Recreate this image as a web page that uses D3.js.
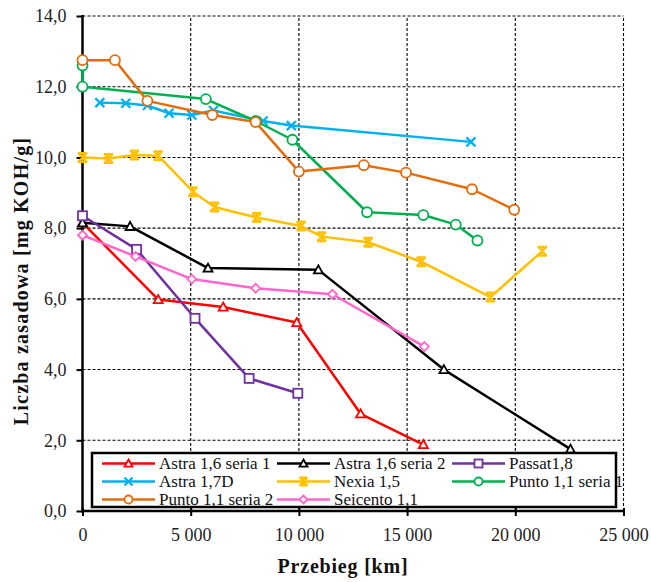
<!DOCTYPE html>
<html><head><meta charset="utf-8">
<script src="https://cdn.jsdelivr.net/npm/d3@7"></script>
<style>
body{margin:0;background:#fff}
svg{display:block}
</style>
</head><body>
<svg id="c" width="651" height="582"></svg>
<script>
const xTicks = [0, 5000, 10000, 15000, 20000, 25000];
const xTickLabels = ["0", "5 000", "10 000", "15 000", "20 000", "25 000"];
const yTicks = [0, 2, 4, 6, 8, 10, 12, 14];
const yTickLabels = ["0,0", "2,0", "4,0", "6,0", "8,0", "10,0", "12,0", "14,0"];

const seriesNames = ["Astra 1,6 seria 1", "Astra 1,6 seria 2", "Passat1,8", "Astra 1,7D", "Nexia 1,5", "Punto 1,1 seria 1", "Punto 1,1 seria 2", "Seicento 1,1"];

const astra16s1 = [[0,8.15],[3500,5.98],[6500,5.77],[9900,5.33],[12850,2.75],[15750,1.88]];
const astra16s2 = [[0,8.15],[2200,8.05],[5800,6.87],[10900,6.82],[16700,4.0],[22550,1.75]];
const passat18 = [[0,8.35],[2500,7.4],[5200,5.45],[7700,3.75],[9950,3.33]];
const astra17D = [[800,11.55],[2000,11.53],[3000,11.47],[4000,11.25],[5050,11.2],[6050,11.33],[8350,11.03],[9650,10.9],[17950,10.44]];
const nexia15 = [[0,10.0],[1200,9.97],[2400,10.07],[3500,10.05],[5100,9.03],[6100,8.6],[8050,8.3],[10100,8.06],[11050,7.76],[13200,7.6],[15650,7.05],[18850,6.05],[21250,7.35]];
const punto11s1 = [[0,12.6],[0,12.0],[5700,11.65],[8000,11.03],[9700,10.5],[13150,8.45],[15750,8.37],[17250,8.1],[18250,7.65]];
const punto11s2 = [[0,12.75],[1500,12.75],[3000,11.6],[6000,11.2],[8000,11.0],[10000,9.6],[13000,9.78],[14950,9.57],[18000,9.1],[19950,8.52]];
const seicento11 = [[0,7.8],[2450,7.2],[5050,6.56],[8000,6.3],[11550,6.13],[15800,4.65]];

const seriesData = [astra16s1, astra16s2, passat18, astra17D, nexia15, punto11s1, punto11s2, seicento11];
const seriesColors = ["#ff0000", "#000000", "#7030a0", "#00b0f0", "#ffc000", "#00b050", "#e46c0a", "#ff66cc"];
const seriesMarkers = ["triangle", "triangle", "square", "x", "star", "circle", "circle", "diamond"];

const svg = d3.select("#c");
const font = "Liberation Serif";
const x = d3.scaleLinear().domain([0, 25000]).range([82.5, 623.5]);
const y = d3.scaleLinear().domain([0, 14]).range([511, 16]);

// gridlines
const grid = svg.append("g");
grid.selectAll("line.h").data(yTicks.filter(d => d > 0)).join("line")
  .attr("x1", x(0)).attr("x2", x(25000)).attr("y1", d => y(d)).attr("y2", d => y(d))
  .attr("stroke", "#000").attr("stroke-width", 1.1).attr("stroke-dasharray", "3,2");
grid.selectAll("line.v").data(xTicks.filter(d => d > 0)).join("line")
  .attr("y1", y(0)).attr("y2", y(14)).attr("x1", d => x(d)).attr("x2", d => x(d))
  .attr("stroke", "#000").attr("stroke-width", 1.1).attr("stroke-dasharray", "3,2");

// axes
const xAxis = d3.axisBottom(x).tickValues(xTicks).tickFormat((d, i) => xTickLabels[i]).tickSize(5).tickPadding(12);
const gx = svg.append("g").attr("transform", `translate(0,${y(0)})`).call(xAxis);
gx.select(".domain").remove();
gx.selectAll(".tick line").attr("stroke", "#000").attr("stroke-width", 2).attr("y1", -3);
gx.selectAll("text").attr("font-family", font).attr("font-size", 18).attr("fill", "#222");

const yAxis = d3.axisLeft(y).tickValues(yTicks).tickFormat((d, i) => yTickLabels[i]).tickSize(6).tickPadding(10);
const gy = svg.append("g").attr("transform", `translate(${x(0)},0)`).call(yAxis);
gy.select(".domain").remove();
gy.selectAll(".tick line").attr("stroke", "#000").attr("stroke-width", 2);
gy.selectAll("text").attr("font-family", font).attr("font-size", 18).attr("fill", "#222");

svg.append("line").attr("x1", x(0)).attr("x2", x(0)).attr("y1", y(14) - 1).attr("y2", y(0) + 1.5)
  .attr("stroke", "#000").attr("stroke-width", 2.5);
svg.append("line").attr("x1", x(0) - 1).attr("x2", x(25000) + 1).attr("y1", y(0)).attr("y2", y(0))
  .attr("stroke", "#000").attr("stroke-width", 2.5);

// marker drawing
function drawMarker(g, type, color, cx, cy, s) {
  const r = s;
  if (type === "triangle") {
    g.append("path").attr("d", `M${cx},${cy - r}L${cx + r},${cy + r * 0.8}L${cx - r},${cy + r * 0.8}Z`)
      .attr("fill", "#fff").attr("stroke", color).attr("stroke-width", 1.8);
  } else if (type === "square") {
    g.append("rect").attr("x", cx - r).attr("y", cy - r).attr("width", 2 * r).attr("height", 2 * r)
      .attr("fill", "#fff").attr("stroke", color).attr("stroke-width", 1.8);
  } else if (type === "circle") {
    g.append("circle").attr("cx", cx).attr("cy", cy).attr("r", r)
      .attr("fill", "#fff").attr("stroke", color).attr("stroke-width", 1.8);
  } else if (type === "diamond") {
    g.append("path").attr("d", `M${cx},${cy - r}L${cx + r},${cy}L${cx},${cy + r}L${cx - r},${cy}Z`)
      .attr("fill", "#fff").attr("stroke", color).attr("stroke-width", 1.8);
  } else if (type === "x") {
    g.append("path").attr("d", `M${cx - r},${cy - r}L${cx + r},${cy + r}M${cx + r},${cy - r}L${cx - r},${cy + r}`)
      .attr("stroke", color).attr("stroke-width", 2.2).attr("fill", "none");
  } else if (type === "star") {
    g.append("path").attr("d", `M${cx - r},${cy - r}L${cx + r},${cy + r}M${cx + r},${cy - r}L${cx - r},${cy + r}M${cx - r},${cy - r}L${cx + r},${cy - r}M${cx - r},${cy + r}L${cx + r},${cy + r}M${cx},${cy - r}L${cx},${cy + r}`)
      .attr("stroke", color).attr("stroke-width", 2).attr("fill", "none");
  }
}

const line = d3.line().x(d => x(d[0])).y(d => y(d[1]));
const plot = svg.append("g");
seriesData.forEach((data, i) => {
  const g = plot.append("g");
  g.append("path").datum(data).attr("d", line).attr("fill", "none")
    .attr("stroke", seriesColors[i]).attr("stroke-width", 2.5).attr("stroke-linejoin", "round");
  data.forEach(d => drawMarker(g, seriesMarkers[i], seriesColors[i], x(d[0]), y(d[1]), seriesMarkers[i] === "circle" ? 5 : 4.5));
});

// legend
const lg = svg.append("g");
lg.append("rect").attr("x", 92).attr("y", 453).attr("width", 524).attr("height", 54)
  .attr("fill", "#fff").attr("stroke", "#000").attr("stroke-width", 2.5);
const colX = [102, 277, 452];
const rowY = [463.5, 481.5, 499.5];
seriesNames.forEach((name, i) => {
  const cx0 = colX[i % 3], cy0 = rowY[Math.floor(i / 3)];
  lg.append("line").attr("x1", cx0).attr("x2", cx0 + 53).attr("y1", cy0).attr("y2", cy0)
    .attr("stroke", seriesColors[i]).attr("stroke-width", 2.5);
  drawMarker(lg, seriesMarkers[i], seriesColors[i], cx0 + 26.5, cy0, 4);
  lg.append("text").attr("x", cx0 + 57).attr("y", cy0 + 5).text(name)
    .attr("font-family", font).attr("font-size", 17).attr("fill", "#111");
});

// axis titles
svg.append("text").attr("x", 343).attr("y", 573).attr("text-anchor", "middle")
  .attr("font-family", font).attr("font-size", 20).attr("font-weight", "bold").attr("letter-spacing", 0.8)
  .attr("fill", "#111").text("Przebieg [km]");
svg.append("text").attr("transform", "translate(28,281) rotate(-90)").attr("text-anchor", "middle")
  .attr("font-family", font).attr("font-size", 20).attr("font-weight", "bold").attr("letter-spacing", 1.2)
  .attr("fill", "#111").text("Liczba zasadowa [mg KOH/g]");
</script>
</body></html>
